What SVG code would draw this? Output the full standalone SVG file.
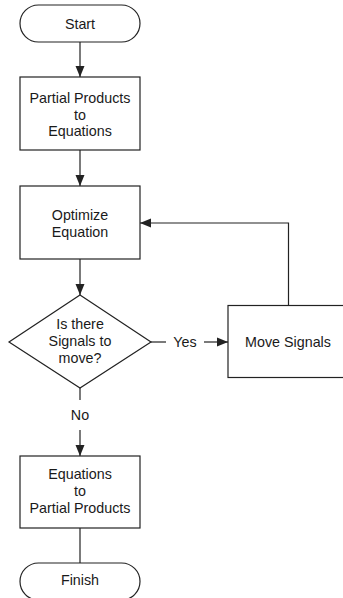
<svg xmlns="http://www.w3.org/2000/svg" width="343" height="598" viewBox="0 0 343 598">
  <style>
    .shape { fill: #ffffff; stroke: #222222; stroke-width: 1.2; }
    .wire { fill: none; stroke: #222222; stroke-width: 1.2; }
    .label { font-family: "Liberation Sans", Arial, sans-serif; font-size: 14.3px; fill: #1a1a1a; text-anchor: middle; }
  </style>
  <defs>
    <marker id="arrow" markerWidth="12" markerHeight="12" refX="11" refY="5" orient="auto" markerUnits="userSpaceOnUse">
      <path d="M0,0.5 L11,5 L0,9.5 Z" fill="#222222"/>
    </marker>
  </defs>
  <rect width="343" height="598" fill="#ffffff"/>

  <!-- connectors -->
  <g id="connectors">
    <line class="wire" x1="80" y1="42" x2="80" y2="77" marker-end="url(#arrow)"/>
    <line class="wire" x1="80" y1="150" x2="80" y2="186" marker-end="url(#arrow)"/>
    <line class="wire" x1="80" y1="259" x2="80" y2="295" marker-end="url(#arrow)"/>
    <line class="wire" x1="151" y1="342" x2="166" y2="342"/>
    <text class="label" x="185" y="347">Yes</text>
    <line class="wire" x1="204" y1="342" x2="228" y2="342" marker-end="url(#arrow)"/>
    <polyline class="wire" points="288.5,305 288.5,223 140,223" marker-end="url(#arrow)"/>
    <line class="wire" x1="80" y1="388" x2="80" y2="400"/>
    <text class="label" x="80" y="420">No</text>
    <line class="wire" x1="80" y1="430" x2="80" y2="456" marker-end="url(#arrow)"/>
    <line class="wire" x1="80" y1="528" x2="80" y2="563"/>
  </g>

  <g id="start">
    <rect class="shape" x="20" y="5" width="120" height="37" rx="18.5" ry="18.5"/>
    <text class="label" x="80" y="28.5">Start</text>
  </g>

  <g id="partial-to-equations">
    <rect class="shape" x="20" y="77" width="120" height="73"/>
    <text class="label" x="80" y="102.5">Partial Products</text>
    <text class="label" x="80" y="119.5">to</text>
    <text class="label" x="80" y="136">Equations</text>
  </g>

  <g id="optimize">
    <rect class="shape" x="20" y="186" width="120" height="73"/>
    <text class="label" x="80" y="220">Optimize</text>
    <text class="label" x="80" y="237">Equation</text>
  </g>

  <g id="decision">
    <polygon class="shape" points="80,295 151,342 80,388 9,342"/>
    <text class="label" x="80" y="329">Is there</text>
    <text class="label" x="80" y="346">Signals to</text>
    <text class="label" x="80" y="363">move?</text>
  </g>

  <g id="move-signals">
    <rect class="shape" x="228" y="305.5" width="122" height="72"/>
    <text class="label" x="288" y="347">Move Signals</text>
  </g>

  <g id="equations-to-partial">
    <rect class="shape" x="20" y="456" width="120" height="72"/>
    <text class="label" x="80" y="479">Equations</text>
    <text class="label" x="80" y="496">to</text>
    <text class="label" x="80" y="513">Partial Products</text>
  </g>

  <g id="finish">
    <rect class="shape" x="20" y="563" width="120" height="37" rx="18.5" ry="18.5"/>
    <text class="label" x="80" y="585">Finish</text>
  </g>
</svg>
